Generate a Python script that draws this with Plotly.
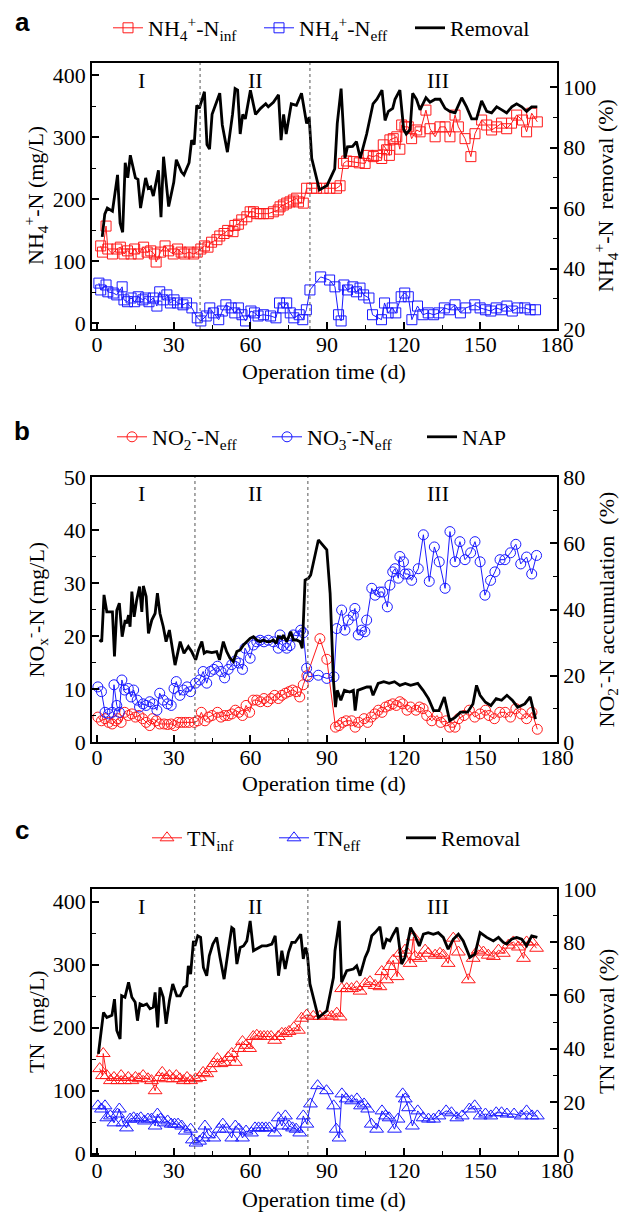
import plotly.graph_objects as go

# ---------------- Panel a : NH4+-N ----------------
A_INF_DAY = [1.4, 2.1, 3.5, 4.2, 6, 7.7, 9.1, 10.5, 11.9, 13.3, 14.7, 16.1, 18.2, 19.6, 21, 22.4, 23.1, 24.8, 26.6, 28,
             29.8, 31.5, 32.9, 34.3, 36, 37.8, 39.2, 40.6, 42, 43.4, 44.8, 46.9, 48, 49.7, 51.1, 53.2, 53.9, 55.3, 56.6, 58.6,
             59.9, 61.2, 62.5, 63.8, 65.1, 67, 69, 70.9, 71.6, 72.9, 74.2, 75.5, 76.8, 78.1, 78.8, 80.7, 82, 84, 85.9, 88.5,
             91.1, 93.7, 95.1, 96.4, 97.7, 100.3, 102.6, 104.9, 106.1, 108.1, 109.4, 111.4, 112, 113.3, 114.4, 114.6, 115.9, 117.3, 118.5, 119.2,
             120.5, 121.8, 123.1, 125.1, 126.4, 128.7, 130.3, 132.3, 134.2, 136.2, 138.1, 140.1, 141.4, 144, 146.3, 147.9, 150.5, 152.5, 154.4, 156.4,
             158.3, 160.3, 162.2, 164.2, 166.5, 168.1, 170.1, 172.3]
A_INF = [125, 115, 157, 120, 112, 120, 123, 112, 117, 112, 120, 112, 123, 115, 117, 112, 99, 115, 125, 117,
         112, 120, 115, 112, 115, 112, 115, 120, 125, 123, 131, 135, 141, 145, 150, 148, 158, 160, 167, 172,
         180, 180, 177, 177, 177, 177, 180, 183, 188, 191, 194, 196, 199, 202, 196, 194, 218, 218, 218, 218,
         218, 218, 222, 258, 262, 261, 259, 258, 271, 269, 271, 266, 288, 280, 271, 296, 298, 301, 281, 320,
         317, 317, 298, 312, 309, 344, 314, 301, 317, 317, 301, 336, 317, 298, 269, 306, 328, 320, 312, 317,
         323, 314, 323, 336, 328, 309, 339, 325]

A_EFF_DAY = [0.7, 1.4, 3.5, 4.2, 6.3, 7.7, 9.8, 10.5, 11.9, 13.3, 14.7, 16.1, 17.9, 18.9, 20.3, 22, 23.4, 24.5, 25.9, 27.3,
             28.7, 30.1, 31.5, 33.6, 35, 37.1, 39.2, 40.6, 42.7, 44.1, 45.5, 47.6, 49, 50.4, 52.5, 53.9, 55.3, 56.7, 58.1, 60.2,
             61.6, 63, 65.1, 67.9, 70, 71.4, 72.8, 74.2, 75.6, 77, 79.1, 80.5, 81.9, 83.3, 87.5, 91, 93.1, 94.5, 95.5, 96.6,
             98, 100.1, 101.5, 102.9, 104.3, 106.4, 107.8, 111.3, 112.5, 113.9, 115.5, 116.9, 119, 120.4, 121.8, 123.2, 125.4, 127.5, 129.6, 131.7,
             133.8, 135.9, 138, 140.1, 142.2, 144.3, 147.8, 149.9, 152, 154.1, 156.2, 158.3, 160.4, 162.5, 164.6, 167.4, 169.5, 171.6]
A_EFF = [65, 54, 62, 51, 49, 46, 59, 38, 35, 41, 35, 43, 38, 41, 35, 41, 28, 51, 38, 46,
         33, 38, 33, 30, 33, 25, 9, 4, 12, 25, 17, 6, 20, 30, 25, 17, 25, 14, 4, 20,
         17, 12, 14, 12, 9, 33, 25, 33, 17, 9, 14, 6, 22, 54, 75, 70, 59, 14, 4, 62,
         54, 59, 51, 57, 46, 41, 14, 6, 33, 17, 25, 17, 43, 49, 43, 6, 28, 14, 17, 14,
         17, 25, 22, 30, 17, 25, 30, 25, 22, 20, 25, 22, 28, 20, 25, 25, 22, 22]

A_REM_DAY = [2, 3, 4, 6, 8, 9, 10, 11, 12, 13, 15, 16, 17, 19, 20, 21, 22, 24, 25, 26,
             28, 30, 31, 33, 34, 36, 37, 38, 39, 40, 42, 43, 44, 45, 48, 49, 51, 53, 54, 55,
             56, 57, 58, 60, 62, 64, 66, 67, 69, 71, 72, 73, 74, 76, 78, 80, 82, 83, 84, 87,
             90, 93, 94, 95.5, 96.4, 97, 98, 100, 101.5, 103, 105.5, 108, 109.5, 111.5, 112.7, 114, 115.7, 116.6, 118.5, 120,
             121, 122.5, 123.5, 125, 126.4, 128.7, 130.3, 132.3, 134.2, 136.2, 138.1, 140.1, 142.7, 144.6, 146.6, 148.5, 150.5, 152.5, 154.4, 156.4,
             158.4, 160.3, 162.3, 164.2, 166.2, 168.1, 170.1, 172.3]
A_REM = [50.5, 58, 60, 59, 71, 55, 52, 75, 70, 77.5, 70, 69.5, 60, 70, 66.5, 67, 64, 72.5, 57, 77,
         60.5, 68.5, 76, 72, 71, 75, 82.5, 81, 94, 93, 98.5, 81, 79.5, 91, 98, 87.5, 78.5, 91, 99.5, 99,
         84.5, 91, 89.5, 99, 91, 93, 94.5, 93.5, 95, 97.5, 82.5, 91, 84.5, 94.5, 94, 98, 88, 90, 76.5, 66,
         67.5, 73, 88, 99.5, 86, 76.5, 80.3, 80.4, 82, 76.5, 84.5, 94.5, 96, 99, 89, 92, 93, 96, 99, 86,
         84.5, 86, 98, 96, 92.5, 96.5, 95, 96, 96, 93, 92, 91.5, 96.5, 93.5, 89.5, 89.5, 95.5, 92, 91.5, 93.5,
         92.5, 91.5, 93.5, 94.5, 93.5, 92, 93.5, 93.5]

# ---------------- Panel b : NOx-N ----------------
B_NO2_DAY = [0.3, 1.7, 3.1, 4.5, 5.9, 7.3, 8, 9.4, 10.8, 12.2, 13.6, 15, 16.4, 17.8, 19.2, 20.6, 21.7, 23.1, 24.5, 26.2,
             27.6, 29, 30.3, 31.7, 33.1, 34.5, 36, 38, 39.4, 40.8, 42.2, 43.6, 45, 47.1, 48.5, 49.9, 51.3, 52.7, 54.1, 55.5,
             56.9, 58.3, 59.7, 61.1, 62.5, 63.9, 65.3, 66.7, 68.1, 69.5, 70.9, 72.3, 73.7, 75.1, 76.5, 77.9, 79.3, 80.7, 82.1, 87.2,
             89.9, 93.3, 94.7, 96.1, 97.5, 99.6, 101, 102.4, 104.5, 105.9, 107.3, 108.7, 110.1, 111.5, 112.9, 114.3, 115.7, 117.1, 118.5, 119.6,
             121.3, 122.7, 124.8, 126.2, 127.6, 129, 131, 133.1, 134.5, 136.6, 138, 140.1, 141.5, 143.6, 145.7, 147.8, 149.9, 152, 153.4, 155.5,
             157.6, 159.7, 161.8, 163.9, 166, 168.1, 170.2, 172.3]
B_NO2 = [4.7, 4, 4.4, 3.7, 3.4, 4, 4.4, 3.7, 5.6, 5, 5.3, 4.7, 5, 4.4, 3.7, 3.1, 4.4, 4, 3.4, 3.4,
         3.3, 3.4, 3.1, 3.7, 3.7, 3.7, 3.7, 3.7, 4, 5.6, 4, 4.7, 5, 5.6, 4.7, 5, 5, 5.3, 6, 5.6,
         5, 6.9, 5.6, 7.9, 7.9, 7.6, 8.2, 7.6, 8.2, 8.8, 8.2, 8.8, 9.2, 9.5, 9.8, 9.5, 8.5, 10.8, 12.5, 19.5,
         15.6, 2.8, 3.1, 3.7, 4, 4, 2.8, 3.7, 4.4, 3.7, 4.7, 5.3, 6, 5.6, 6.6, 6.9, 7.2, 6.9, 7.6, 7.2,
         6, 6.6, 6, 6.6, 6.3, 5, 4, 5, 3.7, 4, 2.8, 2.8, 4.4, 5, 6, 4.7, 5.3, 6, 5, 4.4,
         5.6, 5.6, 4.7, 6.3, 5.3, 4.4, 5.6, 2.4]

B_NO3_DAY = [0.3, 1.7, 3.1, 4.5, 5.9, 6.6, 7.7, 8.7, 9.7, 10.8, 12.2, 13.3, 14.3, 15.7, 16.6, 18, 19.2, 20.6, 22, 23.4,
             24.5, 25.9, 27.6, 29, 30.1, 31, 32.4, 33.8, 35.2, 36.6, 38.5, 40.1, 41.5, 42.9, 44.3, 45.7, 47.1, 48.5, 49.9, 51.3,
             52.7, 54.1, 55.5, 56.9, 57.9, 59.9, 61.2, 62.5, 63.8, 65.3, 67, 69, 70.9, 71.6, 72.9, 74.2, 75.5, 76.8, 78.8, 79.7,
             80.7, 82, 82.7, 86.6, 89.9, 92.7, 93.8, 95.7, 97, 98.3, 100.3, 100.9, 102.2, 103.5, 104.8, 105.5, 107.5, 108.8, 110.7, 111.8,
             113.6, 114.6, 115.7, 116.6, 117.9, 118.5, 119.9, 120.5, 121.8, 123.1, 125.7, 127.7, 130, 132, 133.9, 136.2, 138.1, 140.1, 142, 144,
             146.2, 147.9, 149.9, 151.8, 154, 155.7, 157.7, 159.6, 161.8, 163.9, 165.8, 168.1, 170.1, 172]
B_NO3 = [10.4, 9.5, 5.6, 5.3, 5.6, 10.8, 6.9, 5.6, 11.7, 9.8, 10.1, 8.5, 9.8, 7.9, 6.6, 7.2, 6.9, 7.6, 7.2, 6,
         9.2, 7.9, 7.2, 6.9, 10.1, 11.4, 8.8, 9.8, 10.4, 9.5, 11.1, 11.7, 13.3, 11.1, 13.3, 13.7, 14.3, 13.3, 12.1, 13.7,
         14.6, 15.3, 14.9, 13.7, 17.7, 15.8, 18.3, 18.9, 19.2, 18.9, 19.2, 18.9, 17.7, 20.2, 18.2, 17.7, 18.2, 20.2, 20, 21.1,
         20.6, 13.9, 12.3, 12.6, 12, 12.3, 21.4, 24.9, 21.1, 23, 23.9, 25.2, 20.2, 21.1, 20.8, 23, 29, 27.7, 28.3, 28.3,
         25.5, 29.6, 32.1, 32.7, 30.9, 35, 34, 31.7, 31.7, 30.5, 32.7, 39.1, 30.3, 36.8, 34, 29, 39.7, 34, 37.8, 34.4,
         35.7, 37.8, 34, 27.7, 30.5, 32.1, 34.4, 34.4, 35.7, 37.3, 33.6, 34.9, 31.7, 35.2]

B_NAP_DAY = [0.9, 1.8, 2.7, 3.8, 5.1, 6, 6.8, 7.7, 8.7, 9.8, 11, 11.6, 12.3, 12.9, 13.6, 14.5, 15.5, 16.6, 17.5, 18.1,
             19.2, 20.1, 21.4, 22.7, 23.6, 24.6, 25.9, 27, 28.3, 29.2, 30.5, 32.5, 34, 35.7, 37, 38.6, 39.7, 41, 41.9, 42.9,
             44.9, 46.8, 47.9, 49.4, 50.7, 52, 53.3, 54.7, 56, 57.3, 58.6, 59.9, 61.2, 62.5, 63.8, 65.1, 66.4, 67.7, 69, 70.1,
             70.9, 72.3, 72.9, 74.2, 75.8, 76.8, 78.1, 79.4, 80.3, 81.4, 82.7, 83.6, 86.6, 89.9, 91.2, 92.5, 93.3, 94, 95.4, 96.8,
             98.9, 100.3, 101, 102, 103.8, 105.6, 107, 108, 110, 112.2, 114.3, 116.4, 118.5, 120.6, 122.7, 125.5, 127.6, 129.7, 131.7, 133.8,
             135.9, 138, 140.1, 142.2, 145, 147.1, 148.5, 149.9, 152, 154.1, 156.2, 158.3, 160.4, 162.5, 164.6, 167.4, 169.5, 171.6]
B_NAP = [30.8, 30.3, 44.4, 39.3, 39.3, 39.3, 25.8, 39.8, 41.9, 31.8, 36.8, 35.8, 38.3, 34.8, 45.4, 37.8, 42.9, 46.9, 39.3, 47.1,
         43.9, 32.8, 36.8, 38.8, 44.9, 38.8, 34.8, 30.3, 33.8, 28.8, 23.2, 30.3, 26.8, 28.8, 27.3, 24.8, 27.8, 30.3, 26.8, 27.3,
         27, 27.3, 24.8, 30.3, 27.3, 25.3, 24.3, 27.3, 27.8, 29.3, 30.3, 31.3, 31.8, 30.8, 30.3, 30.8, 30.3, 30.3, 30.8, 29.8,
         31.8, 31.3, 32.3, 30.3, 33.3, 30.8, 30.8, 30.3, 28.3, 48.9, 49.4, 50.4, 61, 58, 44.9, 18.7, 10.5, 15.6, 12.6, 15.6,
         15.1, 15.6, 9.5, 15.6, 16.1, 16.6, 16.6, 14.1, 17.7, 18.2, 17.7, 18.2, 17.1, 17.7, 17.1, 17.7, 15.6, 13.1, 9.5, 9.5,
         13.6, 6.4, 7.4, 9, 9, 11.5, 17.1, 14.1, 12, 11, 13.1, 12.6, 14.1, 12.6, 10.5, 11.5, 13.6, 6.9]

# ---------------- Panel c : TN ----------------
C_INF_DAY = [1, 2.1, 2.4, 3.8, 5.2, 6.6, 8, 9.4, 10.8, 12.2, 13.6, 15, 16.4, 18, 19.9, 21.3, 22.7, 24.1, 25.5, 26.9,
             28.3, 29.7, 31, 32.4, 33.8, 35.2, 36.6, 38.5, 40.1, 41.5, 42.9, 44.3, 45.7, 47.1, 48.5, 49.9, 51.3, 52.7, 54.1, 55.5,
             56.9, 58.3, 59.7, 61.1, 62.5, 63.9, 65.3, 66.7, 68.1, 69.5, 70.9, 72.3, 73.7, 75.1, 77, 78.8, 80, 82, 84.6, 87.2,
             89.9, 91.8, 93.8, 95.1, 95.7, 97.7, 99.6, 101.6, 102.9, 104.9, 106.8, 108.8, 110.7, 111.4, 113.3, 114.4, 115.9, 117.4, 118.5, 120.5,
             122.5, 123.8, 124.4, 126.4, 128.4, 129.6, 132.3, 134.2, 135.5, 137.4, 139.4, 141.4, 145.3, 147.2, 149.2, 151.2, 153.1, 155.1, 157.1, 159,
             161, 162.9, 164.9, 166.9, 168.1, 170.1, 172]
C_INF = [135, 124, 159, 124, 116, 121, 116, 124, 116, 121, 116, 121, 119, 124, 119, 116, 100, 121, 129, 119,
         124, 119, 124, 119, 116, 121, 116, 119, 121, 129, 127, 135, 143, 151, 143, 145, 153, 159, 145, 167,
         178, 172, 167, 186, 188, 186, 186, 186, 186, 180, 186, 191, 191, 194, 200, 196, 215, 220, 218, 218,
         220, 218, 223, 217, 262, 262, 262, 265, 258, 270, 273, 267, 265, 289, 276, 297, 307, 281, 318, 323,
         302, 344, 313, 310, 323, 318, 315, 318, 315, 302, 342, 320, 276, 310, 323, 320, 315, 313, 323, 318,
         331, 336, 328, 310, 336, 336, 326]

C_EFF_DAY = [0.3, 1.7, 3.1, 3.8, 5.2, 6.6, 8, 8.7, 10.1, 11.5, 12.9, 14.3, 15.7, 17.1, 18.5, 19.9, 21.3, 22.7, 23.6, 24.8,
             26.2, 27.6, 29, 30.3, 31.7, 33.1, 34.5, 36.6, 37.3, 38.7, 40.1, 41.5, 42.2, 43.6, 45.7, 47.8, 49.2, 50.6, 52.7, 54.1,
             55.5, 56.9, 58.3, 60.4, 61.8, 63.2, 64.6, 66, 67.4, 69.5, 70.9, 72.3, 73.7, 75.1, 76.5, 77.9, 79.3, 80.7, 82.1, 83.5,
             86.3, 89.8, 92.6, 93.6, 94.7, 95.8, 97.5, 99.6, 101.7, 103.1, 104.5, 105.9, 107.3, 109.4, 111.5, 112.9, 114.3, 116.4, 117.8, 119.6,
             120.6, 121.9, 123.4, 125.5, 127.6, 129.7, 131.7, 133.8, 136.6, 138.7, 140.8, 142.9, 145.7, 147.8, 149.9, 152, 154.1, 156.2, 158.3, 160.4,
             163.2, 166, 168.1, 170.2, 172.3]
C_EFF = [76, 71, 76, 57, 60, 49, 63, 71, 49, 41, 55, 57, 55, 57, 52, 55, 55, 44, 63, 55,
         49, 52, 47, 47, 47, 44, 36, 39, 22, 17, 20, 25, 44, 30, 25, 39, 47, 39, 25, 44,
         39, 25, 36, 33, 41, 41, 41, 41, 41, 33, 57, 44, 60, 44, 41, 39, 33, 60, 47, 79,
         108, 100, 76, 39, 25, 95, 87, 84, 87, 76, 79, 71, 47, 39, 68, 60, 57, 39, 55, 95,
         87, 73, 44, 68, 57, 55, 55, 60, 68, 65, 57, 60, 71, 76, 60, 63, 60, 65, 65, 63,
         63, 60, 68, 60, 60]

C_REM_DAY = [0.5, 2.5, 3.8, 5.8, 6.8, 7.7, 9, 9.6, 10.9, 12.3, 13.6, 14.9, 15.8, 16.8, 18.1, 19.4, 20.7, 22, 22.7, 23.7,
             24.6, 25.9, 27, 28.3, 29.6, 31.2, 32.5, 34, 35.1, 35.7, 36.6, 37.7, 38.3, 39.4, 40.5, 41.6, 42.9, 43.9, 45.3, 46.8,
             48.1, 49.7, 51.3, 52.7, 53.5, 54.7, 56, 57.3, 58.6, 59.9, 61.2, 62.5, 64.5, 66.4, 68.4, 69.7, 71, 72.3, 73.6, 74.9,
             76.2, 77.5, 79.7, 80.7, 81.6, 82.3, 83.3, 86.6, 89.9, 92.5, 93.1, 94.8, 95.7, 97.7, 100.3, 101.6, 102.9, 104.9, 106.1, 107.5,
             108.8, 110.7, 112, 113.3, 114.6, 115.9, 117.4, 119.2, 120.5, 122.7, 124.4, 126.1, 127.7, 129.6, 131.6, 133.5, 135.5, 137.4, 139.4, 141.4,
             143.3, 145.9, 147.9, 149.9, 152.5, 155.1, 157.1, 159, 160.3, 162.2, 164.2, 166.2, 168.1, 170.1, 172.3]
C_REM = [38, 53.6, 51.7, 52.5, 58.6, 46.8, 43.6, 59.9, 59.3, 64.9, 59.3, 57.4, 50.5, 56.8, 56.2, 56.8, 55, 55.6, 61.1, 48,
         63, 59.3, 49.3, 58, 64.3, 59.8, 59.8, 63, 63.6, 71.1, 68, 80.5, 78.6, 82.4, 81.8, 70.5, 67.4, 74.9, 79.3, 81.8,
         74.3, 66.1, 76.8, 85.5, 84.9, 71.8, 78, 78.6, 80.5, 88, 76.8, 77.4, 78.6, 78.6, 79.3, 82.4, 67.4, 76.8, 69.9, 76.2,
         79.9, 79.9, 83, 73.7, 78, 75.5, 64.3, 51.7, 54.2, 66.7, 76.8, 88, 65, 69.3, 69.9, 71.1, 67.4, 74.3, 76.8, 82.4,
         83.6, 85.8, 77.4, 81.1, 80.5, 83, 85.5, 71.8, 74.3, 85.5, 82.4, 78.6, 83, 83.6, 83, 83.6, 81.8, 77.4, 81.1, 83,
         80.5, 74.3, 75.5, 83.6, 81.8, 80.5, 81.8, 79.9, 79.3, 81.1, 81.8, 81.1, 78.6, 82.4, 81.8]

PHASES = ["I", "II", "III"]
PHASE_X = [17.5, 62, 133.5]
X_TICKS = [0, 30, 60, 90, 120, 150, 180]

RED = "#ff1a1a"
BLUE = "#1a1aff"
SERIF = "Liberation Serif"
W, H = 641, 1219

fig = go.Figure()

# panel a
fig.add_trace(go.Scatter(x=A_INF_DAY, y=A_INF, mode="lines+markers", name="NH<sub>4</sub><sup>+</sup>-N<sub>inf</sub>",
                         line=dict(color=RED, width=1), marker=dict(symbol="square-open", size=10, color=RED, line=dict(width=1)),
                         xaxis="x", yaxis="y", legend="legend"))
fig.add_trace(go.Scatter(x=A_EFF_DAY, y=A_EFF, mode="lines+markers", name="NH<sub>4</sub><sup>+</sup>-N<sub>eff</sub>",
                         line=dict(color=BLUE, width=1), marker=dict(symbol="square-open", size=10, color=BLUE, line=dict(width=1)),
                         xaxis="x", yaxis="y", legend="legend"))
fig.add_trace(go.Scatter(x=A_REM_DAY, y=A_REM, mode="lines", name="Removal",
                         line=dict(color="black", width=2.8), xaxis="x", yaxis="y2", legend="legend"))
# panel b
fig.add_trace(go.Scatter(x=B_NO2_DAY, y=B_NO2, mode="lines+markers", name="NO<sub>2</sub><sup>-</sup>-N<sub>eff</sub>",
                         line=dict(color=RED, width=1), marker=dict(symbol="circle-open", size=10, color=RED, line=dict(width=1)),
                         xaxis="x2", yaxis="y3", legend="legend2"))
fig.add_trace(go.Scatter(x=B_NO3_DAY, y=B_NO3, mode="lines+markers", name="NO<sub>3</sub><sup>-</sup>-N<sub>eff</sub>",
                         line=dict(color=BLUE, width=1), marker=dict(symbol="circle-open", size=10, color=BLUE, line=dict(width=1)),
                         xaxis="x2", yaxis="y3", legend="legend2"))
fig.add_trace(go.Scatter(x=B_NAP_DAY, y=B_NAP, mode="lines", name="NAP",
                         line=dict(color="black", width=2.8), xaxis="x2", yaxis="y4", legend="legend2"))
# panel c
fig.add_trace(go.Scatter(x=C_INF_DAY, y=C_INF, mode="lines+markers", name="TN<sub>inf</sub>",
                         line=dict(color=RED, width=1), marker=dict(symbol="triangle-up-open", size=12, color=RED, line=dict(width=1)),
                         xaxis="x3", yaxis="y5", legend="legend3"))
fig.add_trace(go.Scatter(x=C_EFF_DAY, y=C_EFF, mode="lines+markers", name="TN<sub>eff</sub>",
                         line=dict(color=BLUE, width=1), marker=dict(symbol="triangle-up-open", size=12, color=BLUE, line=dict(width=1)),
                         xaxis="x3", yaxis="y5", legend="legend3"))
fig.add_trace(go.Scatter(x=C_REM_DAY, y=C_REM, mode="lines", name="Removal",
                         line=dict(color="black", width=2.8), xaxis="x3", yaxis="y6", legend="legend3"))

XDOM = [92 / W, 557 / W]
PANELS = [  # top px, bottom px
    (63, 329), (477, 742), (889, 1155)
]


def dom(top, bot):
    return [1 - bot / H, 1 - top / H]


tickfont = dict(family=SERIF, size=22, color="black")


def ax(**kw):
    d = dict(showline=True, linecolor="black", linewidth=1.5, ticks="inside", ticklen=7, tickwidth=1.5,
             tickcolor="black", showgrid=False, zeroline=False, tickfont=tickfont, automargin=False)
    d.update(kw)
    return d


def xax(anchor):
    return ax(domain=XDOM, anchor=anchor, range=[-2, 180], tickvals=X_TICKS, mirror=True, ticklabelstandoff=-5,
              minor=dict(ticks="inside", ticklen=4, tickwidth=1.2, tickcolor="black", dtick=15, tick0=0))


def yl(domain, rng, dtick, mdtick, anchor):
    return ax(domain=domain, anchor=anchor, range=rng, dtick=dtick, tick0=0,
              minor=dict(ticks="inside", ticklen=4, tickwidth=1.2, tickcolor="black", dtick=mdtick, tick0=0))


def yr(over, rng, dtick, mdtick, anchor):
    return ax(overlaying=over, side="right", anchor=anchor, range=rng, dtick=dtick, tick0=0,
              minor=dict(ticks="inside", ticklen=4, tickwidth=1.2, tickcolor="black", dtick=mdtick, tick0=0))


fig.update_layout(
    width=W, height=H, autosize=False, margin=dict(l=0, r=0, t=0, b=0, pad=0, autoexpand=False),
    paper_bgcolor="white", plot_bgcolor="white",
    font=dict(family=SERIF, size=22, color="black"),
    xaxis=xax("y"), xaxis2=xax("y3"), xaxis3=xax("y5"),
    yaxis=yl(dom(*PANELS[0]), [-9, 420], 100, 50, "x"),
    yaxis2=yr("y", [20, 108], 20, 10, "x"),
    yaxis3=yl(dom(*PANELS[1]), [0, 50], 10, 5, "x2"),
    yaxis4=yr("y3", [0, 80], 20, 10, "x2"),
    yaxis5=yl(dom(*PANELS[2]), [-2, 420], 100, 50, "x3"),
    yaxis6=yr("y5", [0, 100], 20, 10, "x3"),
    showlegend=True,
)

LEG_Y = [28, 437, 838]
LEG_X = [108, 112, 147]
LEG_EW = [106, 110, 82]
for i, key in enumerate(["legend", "legend2", "legend3"]):
    fig.update_layout({key: dict(orientation="h", x=LEG_X[i] / W, xanchor="left", y=1 - LEG_Y[i] / H, yanchor="middle",
                                 font=dict(family=SERIF, size=22, color="black"), bgcolor="rgba(0,0,0,0)",
                                 itemwidth=30, entrywidth=LEG_EW[i], entrywidthmode="pixels")})

# dashed phase boundaries
DASH_X = [(40.3, 83.3), (38.3, 82.5), (38.2, 82.5)]
XREFS = ["x", "x2", "x3"]
YREFS = ["y", "y3", "y5"]
for i in range(3):
    for dx in DASH_X[i]:
        fig.add_shape(type="line", xref=XREFS[i], yref=YREFS[i] + " domain", x0=dx, x1=dx, y0=0, y1=1,
                      line=dict(color="#555555", width=1, dash="dot"))
    for lab, px in zip(PHASES, PHASE_X):
        fig.add_annotation(x=px, y=1 - 17 / 266, xref=XREFS[i], yref=YREFS[i] + " domain", text=lab,
                           xanchor="center", yanchor="middle",
                           showarrow=False, font=dict(family=SERIF, size=22, color="black"))

# axis titles as annotations
LEFT_T = ["NH<sub>4</sub><sup>+</sup>-N (mg/L)", "NO<sub>x</sub><sup>-</sup>-N (mg/L)", "TN  (mg/L)"]
RIGHT_T = ["NH<sub>4</sub><sup>+</sup>-N  removal (%)", "NO<sub>2</sub><sup>-</sup>-N accumulation  (%)", "TN removal (%)"]
XT_Y = [371, 783, 1199]
LETTERS = ["a", "b", "c"]
LET_Y = [22, 431, 830]
for i, (top, bot) in enumerate(PANELS):
    cy = 1 - (top + bot) / 2 / H
    fig.add_annotation(x=36 / W, y=cy, xref="paper", yref="paper", text=LEFT_T[i], textangle=-90,
                       xanchor="center", yanchor="middle",
                       showarrow=False, font=dict(family=SERIF, size=22, color="black"))
    fig.add_annotation(x=606 / W, y=cy, xref="paper", yref="paper", text=RIGHT_T[i], textangle=-90,
                       xanchor="center", yanchor="middle",
                       showarrow=False, font=dict(family=SERIF, size=22, color="black"))
    fig.add_annotation(x=324 / W, y=1 - XT_Y[i] / H, xref="paper", yref="paper", text="Operation time (d)",
                       xanchor="center", yanchor="middle",
                       showarrow=False, font=dict(family=SERIF, size=22, color="black"))
    fig.add_annotation(x=22 / W, y=1 - LET_Y[i] / H, xref="paper", yref="paper", text="<b>%s</b>" % LETTERS[i],
                       xanchor="center", yanchor="middle",
                       showarrow=False, font=dict(family="Liberation Sans", size=26, color="black"))

fig.write_html("out.html", config={"displayModeBar": False},
               post_script="document.body.style.margin='0px';")
